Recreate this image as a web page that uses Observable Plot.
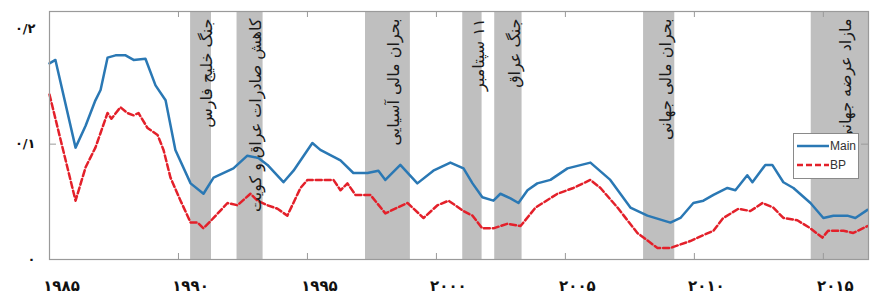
<!DOCTYPE html>
<html>
<head>
<meta charset="utf-8">
<script src="https://cdn.jsdelivr.net/npm/d3@7"></script>
<script src="https://cdn.jsdelivr.net/npm/@observablehq/plot@0.6"></script>
<style>
  body { margin: 0; background: #fff; overflow: hidden; }
  #wrap { position: relative; width: 875px; height: 301px; }
  #wrap > svg { display: block; }
  #legend { position: absolute; left: 793px; top: 133px; width: 64px; height: 44px;
    border: 1px solid #8a8a8a; background: #fff; font-family: "Liberation Sans", Arial, sans-serif;
    font-size: 12px; color: #333; }
  .row { position: absolute; left: 2px; display: flex; align-items: center; }
  .row svg { display: block; }
  .row span { margin-left: 1px; }
</style>
</head>
<body>
<div id="wrap"><div id="legend">
  <div class="row" style="top:5px"><svg width="33" height="8"><line x1="1" y1="4" x2="33" y2="4" stroke="#2a78b4" stroke-width="2.5"/></svg><span>Main</span></div>
  <div class="row" style="top:24px"><svg width="33" height="8"><line x1="1" y1="4" x2="33" y2="4" stroke="#e3202a" stroke-width="2.5" stroke-dasharray="6,3"/></svg><span>BP</span></div>
</div></div>
<script>
const mainYears = [1985.00,1985.23,1986.01,1986.40,1986.78,1986.98,1987.25,1987.56,1987.95,1988.26,1988.72,1989.11,1989.50,1989.88,1990.47,1990.97,1991.36,1992.13,1992.67,1993.10,1993.45,1994.07,1994.46,1995.19,1995.50,1996.28,1996.78,1997.33,1997.75,1998.02,1998.60,1999.26,1999.88,2000.54,2001.05,2001.40,2001.78,2002.21,2002.48,2002.87,2003.18,2003.53,2003.91,2004.42,2005.08,2005.97,2006.74,2007.52,2008.18,2009.07,2009.46,2009.96,2010.35,2010.74,2011.28,2011.59,2012.05,2012.25,2012.75,2013.02,2013.45,2013.84,2014.50,2015.00,2015.39,2015.93,2016.24,2016.71];
const mainValues = [0.170,0.173,0.097,0.116,0.138,0.147,0.175,0.177,0.177,0.173,0.174,0.151,0.138,0.095,0.066,0.057,0.071,0.079,0.090,0.088,0.082,0.067,0.077,0.101,0.095,0.086,0.075,0.075,0.077,0.069,0.082,0.066,0.077,0.084,0.079,0.066,0.054,0.051,0.057,0.053,0.049,0.060,0.066,0.069,0.079,0.084,0.069,0.045,0.038,0.032,0.036,0.049,0.051,0.056,0.062,0.060,0.073,0.067,0.082,0.082,0.067,0.062,0.049,0.036,0.038,0.038,0.036,0.043];
const bpYears = [1985.00,1986.01,1986.40,1986.78,1987.25,1987.40,1987.75,1988.02,1988.26,1988.45,1988.80,1989.19,1989.42,1989.69,1990.08,1990.47,1990.74,1990.97,1991.36,1991.90,1992.29,1992.79,1993.06,1993.45,1993.84,1994.22,1994.73,1995.00,1996.01,1996.28,1996.55,1996.86,1997.44,1998.02,1998.49,1998.88,1999.50,2000.04,2000.47,2001.05,2001.40,2001.78,2002.21,2002.75,2003.26,2003.84,2004.69,2005.31,2005.97,2006.36,2007.02,2007.79,2008.57,2009.07,2009.84,2010.74,2011.12,2011.71,2012.17,2012.64,2013.06,2013.45,2013.99,2014.50,2014.96,2015.19,2015.78,2016.16,2016.71];
const bpValues = [0.143,0.051,0.080,0.097,0.127,0.122,0.132,0.127,0.125,0.127,0.114,0.108,0.095,0.071,0.051,0.032,0.032,0.027,0.036,0.049,0.047,0.057,0.051,0.047,0.044,0.038,0.062,0.069,0.069,0.060,0.066,0.056,0.056,0.040,0.045,0.049,0.036,0.047,0.051,0.042,0.038,0.027,0.027,0.031,0.029,0.045,0.057,0.062,0.069,0.062,0.045,0.023,0.010,0.010,0.016,0.025,0.036,0.044,0.042,0.049,0.045,0.036,0.034,0.027,0.019,0.025,0.025,0.023,0.029];

const bandStart = [1990.47, 1992.27, 1997.25, 2001.02, 2002.26, 2008.03, 2014.53];
const bandEnd   = [1991.28, 1993.28, 1998.99, 2001.77, 2003.32, 2009.24, 2016.75];
const bandLabels = ["جنگ خلیج فارس", "کاهش صادرات عراق و کویت", "بحران مالی آسیایی", "۱۱ سپتامبر", "جنگ عراق", "بحران مالی جهانی", "مازاد عرضه جهانی"];

const xTicks = [1985, 1990, 1995, 2000, 2005, 2010, 2015];
const xTickLabels = ["۱۹۸۵", "۱۹۹۰", "۱۹۹۵", "۲۰۰۰", "۲۰۰۵", "۲۰۱۰", "۲۰۱۵"];
const yTicks = [0, 0.1, 0.2];
const yTickLabels = ["۰", "۰/۱", "۰/۲"];

const mainData = mainYears.map((x, i) => ({x, y: mainValues[i]}));
const bpData = bpYears.map((x, i) => ({x, y: bpValues[i]}));
const bands = bandStart.map((s, i) => ({s, e: bandEnd[i], m: (s + bandEnd[i]) / 2, label: bandLabels[i]}));

const chart = Plot.plot({
  width: 875, height: 301,
  marginLeft: 49, marginRight: 7, marginTop: 11, marginBottom: 42,
  style: {fontFamily: "'DejaVu Sans', sans-serif", background: "#fff"},
  x: {domain: [1985, 2016.75]},
  y: {domain: [0, 0.215]},
  marks: [
    Plot.rect(bands, {x1: "s", x2: "e", fill: "#bfbfbf"}),
    Plot.line(mainData, {x: "x", y: "y", stroke: "#2a78b4", strokeWidth: 2.5}),
    Plot.line(bpData, {x: "x", y: "y", stroke: "#e3202a", strokeWidth: 2.5, strokeDasharray: "6,3"}),
    Plot.text(bands, {x: "m", frameAnchor: "top", dy: 7, text: "label", rotate: -90, textAnchor: "end", fontSize: 16, fill: "#1a1a1a"}),
    Plot.frame({stroke: "#9a9a9a", strokeWidth: 1.2}),
    Plot.ruleX(xTicks.slice(1), {stroke: "#9a9a9a", insetTop: 242}),
    Plot.ruleX(xTicks.slice(1), {stroke: "#9a9a9a", insetBottom: 242}),
    Plot.ruleY(yTicks.slice(1, 2), {stroke: "#9a9a9a", insetRight: 812}),
    Plot.ruleY(yTicks.slice(1, 2), {stroke: "#9a9a9a", insetLeft: 812}),
    Plot.axisX({ticks: xTicks, tickSize: 0, tickPadding: 21, dx: 12, fontSize: 15, fontWeight: "bold", fill: "#111",
      tickFormat: d => xTickLabels[xTicks.indexOf(d)], label: null}),
    Plot.axisY({ticks: yTicks, tickSize: 0, tickPadding: 14, fontSize: 13, fontWeight: "bold", fill: "#111",
      tickFormat: d => yTickLabels[yTicks.indexOf(d)], label: null})
  ]
});
// right-to-left base direction for the Persian band labels
d3.select(chart).selectAll("text")
  .filter(function() { return bandLabels.includes(this.textContent); })
  .attr("direction", "rtl").style("direction", "rtl").style("unicode-bidi", "embed").attr("text-anchor", "start");
document.getElementById("wrap").prepend(chart);
</script>
</body>
</html>
